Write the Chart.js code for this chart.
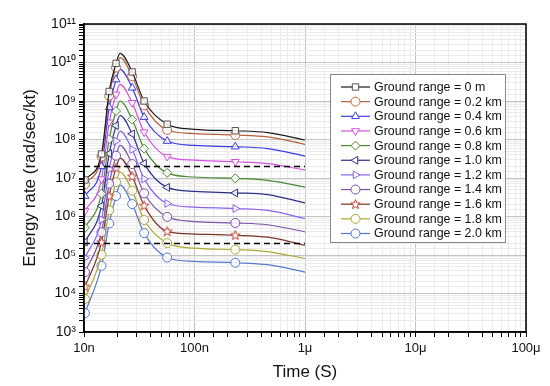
<!DOCTYPE html>
<html>
<head>
<meta charset="utf-8">
<script src="https://cdn.jsdelivr.net/npm/chart.js@4.4.1/dist/chart.umd.min.js"></script>
<style>
html, body { margin: 0; padding: 0; background: #fff; }
</style>
</head>
<body>
<canvas id="energyChart" width="550" height="386"></canvas>
<script>
// sample times (s)
var times = [1.02e-8, 1.44e-8, 1.69e-8, 1.95e-8, 2.12e-8, 2.73e-8, 3.5e-8, 5.66e-8, 1.0e-7, 2.34e-7, 4.6e-7, 1.0e-6];
var markerAt = [1, 1, 1, 1, 0, 1, 1, 1, 0, 1, 0, 0];

var rangeLabels = [
    "Ground range = 0 m",
    "Ground range = 0.2 km",
    "Ground range = 0.4 km",
    "Ground range = 0.6 km",
    "Ground range = 0.8 km",
    "Ground range = 1.0 km",
    "Ground range = 1.2 km",
    "Ground range = 1.4 km",
    "Ground range = 1.6 km",
    "Ground range = 1.8 km",
    "Ground range = 2.0 km",
];

// energy rate (rad/sec/kt) per ground range
var gr00 = [8.9e6, 4.2e7, 1.77e9, 9.5e9, 1.73e10, 5.7e9, 1.0e9, 2.5e8, 1.84e8, 1.69e8, 1.51e8, 9.7e7];
var gr02 = [6.9e6, 3.6e7, 1.37e9, 7.4e9, 1.34e10, 4.4e9, 7.7e8, 1.77e8, 1.42e8, 1.31e8, 1.17e8, 7.5e7];
var gr04 = [3.4e6, 2.0e7, 6.8e8, 3.6e9, 6.6e9, 2.2e9, 3.8e8, 9.1e7, 7.0e7, 6.5e7, 5.8e7, 3.7e7];
var gr06 = [1.39e6, 9.4e6, 2.8e8, 1.49e9, 2.7e9, 9.0e8, 1.56e8, 3.6e7, 2.9e7, 2.64e7, 2.36e7, 1.61e7];
var gr08 = [5.1e5, 3.9e6, 1.02e8, 5.5e8, 1.0e9, 3.3e8, 5.8e7, 1.36e7, 1.06e7, 9.8e6, 8.7e6, 5.8e6];
var gr10 = [2.16e5, 1.88e6, 4.3e7, 2.3e8, 4.2e8, 1.4e8, 2.4e7, 5.7e6, 4.5e6, 4.1e6, 3.7e6, 2.26e6];
var gr12 = [8.5e4, 8.3e5, 1.69e7, 9.1e7, 1.65e8, 5.5e7, 9.5e6, 2.18e6, 1.75e6, 1.61e6, 1.44e6, 8.9e5];
var gr14 = [3.6e4, 3.9e5, 7.1e6, 3.8e7, 7.0e7, 2.3e7, 4.0e6, 9.8e5, 7.4e5, 6.8e5, 6.1e5, 4.0e5];
var gr16 = [1.5e4, 2.15e5, 3.4e6, 1.83e7, 3.3e7, 1.1e7, 1.92e6, 4.1e5, 3.5e5, 3.26e5, 2.9e5, 1.79e5];
var gr18 = [7.2e3, 1.02e5, 1.45e6, 7.8e6, 1.41e7, 4.7e6, 8.1e5, 2.04e5, 1.5e5, 1.38e5, 1.23e5, 8.1e4];
var gr20 = [3.1e3, 5.2e4, 6.6e5, 3.4e6, 6.5e6, 2.1e6, 3.7e5, 8.6e4, 6.8e4, 6.3e4, 5.6e4, 3.6e4];
var seriesValues = [gr00, gr02, gr04, gr06, gr08, gr10, gr12, gr14, gr16, gr18, gr20];

// dashed reference levels
var dashLevels = [2e7, 2e5];
var dashSpan = [1e-8, 1e-6];

var xTickLabels = ["10n", "100n", "1\u03bc", "10\u03bc", "100\u03bc"];
var yTickLabels = ["10\u00b3", "10\u2074", "10\u2075", "10\u2076", "10\u2077", "10\u2078", "10\u2079", "10\u00b9\u2070", "10\u00b9\u00b9"];

var lineColors = ["#1c1c1c", "#b5603a", "#3a3ae6", "#d54fe0", "#4a8a34", "#2e2e8a", "#8a62f0", "#7a52a8", "#7a3428", "#a8a832", "#5878d0"];
var markerColors = ["#555", "#c0683e", "#3a3ae6", "#d54fe0", "#4a8a34", "#2e2e8a", "#8a62f0", "#7a52a8", "#c0392b", "#a8a832", "#5878d0"];

var FONT = "'Liberation Sans', Arial, Helvetica, sans-serif";

// 5 point star for the 1.6 km series
function makeStar(color) {
    var c = document.createElement("canvas");
    c.width = 11; c.height = 11;
    var g = c.getContext("2d");
    g.beginPath();
    for (var i = 0; i < 10; i++) {
        var r = i % 2 === 0 ? 5 : 2.1;
        var a = -Math.PI / 2 + i * Math.PI / 5;
        var px = 5.5 + r * Math.cos(a), py = 5.7 + r * Math.sin(a);
        if (i === 0) g.moveTo(px, py); else g.lineTo(px, py);
    }
    g.closePath();
    g.fillStyle = "#fff";
    g.fill();
    g.strokeStyle = color;
    g.lineWidth = 1;
    g.stroke();
    return c;
}

var starImg = makeStar(markerColors[8]);
var pointStyles = ["rect", "circle", "triangle", "triangle", "rectRot", "triangle", "triangle", "circle", starImg, "circle", "circle"];
var pointRotations = [0, 0, 0, 180, 0, 270, 90, 0, 0, 0, 0];

function isPow10(v) {
    var e = Math.log10(v);
    return Math.abs(e - Math.round(e)) < 1e-6;
}

var datasets = [];
seriesValues.forEach(function (vals, s) {
    datasets.push({
        label: rangeLabels[s],
        data: vals.map(function (v, i) { return { x: times[i], y: v }; }),
        borderColor: lineColors[s],
        borderWidth: 1.2,
        pointStyle: pointStyles[s],
        pointRotation: pointRotations[s],
        pointRadius: markerAt.map(function (m) { return m ? 4.5 : 0; }),
        pointBorderColor: markerColors[s],
        pointBackgroundColor: "rgba(255,255,255,0.85)",
        pointBorderWidth: 1,
        cubicInterpolationMode: "monotone",
        fill: false,
    });
});

dashLevels.forEach(function (lvl) {
    datasets.push({
        label: "",
        data: [{ x: dashSpan[0], y: lvl }, { x: dashSpan[1], y: lvl }],
        borderColor: "#000",
        borderWidth: 1.5,
        borderDash: [6, 4],
        pointRadius: 0,
        order: -1,
    });
});

// frame round the plot + legend inside it
var framePlugin = {
    id: "frameLegend",
    afterDraw: function (chart) {
        var a = chart.chartArea, ctx = chart.ctx;
        ctx.save();
        ctx.strokeStyle = "#000";
        ctx.lineWidth = 1.5;
        ctx.strokeRect(a.left, a.top, a.right - a.left, a.bottom - a.top);

        var bx = 330, by = 74, bw = 175, bh = 168;
        ctx.fillStyle = "#fff";
        ctx.fillRect(bx, by, bw, bh);
        ctx.strokeStyle = "#888";
        ctx.lineWidth = 1;
        ctx.strokeRect(bx + 0.5, by + 0.5, bw, bh);

        ctx.font = "12.4px " + FONT;
        ctx.textBaseline = "middle";
        ctx.textAlign = "left";
        for (var i = 0; i < rangeLabels.length; i++) {
            var y = by + 13 + i * 14.65;
            ctx.strokeStyle = lineColors[i];
            ctx.lineWidth = 1.2;
            ctx.beginPath();
            ctx.moveTo(341, y);
            ctx.lineTo(370, y);
            ctx.stroke();
            ctx.strokeStyle = markerColors[i];
            ctx.fillStyle = "#fff";
            ctx.lineWidth = 1;
            if (Chart.helpers && Chart.helpers.drawPoint) {
                Chart.helpers.drawPoint(ctx, { pointStyle: pointStyles[i], rotation: pointRotations[i], radius: 4.5, borderWidth: 1 }, 355.5, y);
            }
            ctx.fillStyle = "#111";
            ctx.fillText(rangeLabels[i], 374, y + 0.5);
        }
        ctx.restore();
    },
};

function gridColor(c) {
    if (!c.tick) return "#ddd";
    return isPow10(c.tick.value) ? "#c4c4c4" : "#ebebeb";
}

var ctx = document.getElementById("energyChart").getContext("2d");
var chart = new Chart(ctx, {
    type: "line",
    data: { datasets: datasets },
    options: {
        responsive: false,
        animation: false,
        layout: { padding: { left: 0, right: 24, top: 24, bottom: 0 } },
        plugins: { legend: { display: false }, tooltip: { enabled: false } },
        scales: {
            x: {
                type: "logarithmic",
                min: 1e-8,
                max: 1e-4,
                afterFit: function (s) { s.height = 54; },
                grid: { color: gridColor, tickColor: "#000", tickLength: 5 },
                border: { color: "#000", width: 1.5 },
                ticks: {
                    autoSkip: false,
                    maxRotation: 0,
                    padding: 4,
                    color: "#111",
                    font: { size: 13, family: FONT },
                    callback: function (v) {
                        if (!isPow10(v)) return "";
                        return xTickLabels[Math.round(Math.log10(v)) + 8];
                    },
                },
                title: { display: true, text: "Time (S)", color: "#111", font: { size: 17, family: FONT }, padding: { top: 0, bottom: 3 } },
            },
            y: {
                type: "logarithmic",
                min: 1e3,
                max: 1e11,
                afterFit: function (s) { s.width = 84; },
                grid: { color: gridColor, tickColor: "#000", tickLength: 5 },
                border: { color: "#000", width: 1.5 },
                ticks: {
                    autoSkip: false,
                    padding: 3,
                    color: "#111",
                    font: { size: 14, family: FONT },
                    callback: function (v) {
                        if (!isPow10(v)) return "";
                        return yTickLabels[Math.round(Math.log10(v)) - 3];
                    },
                },
                title: { display: true, text: "Energy rate (rad/sec/kt)", color: "#111", font: { size: 17, family: FONT }, padding: { top: 20, bottom: 0 } },
            },
        },
    },
    plugins: [framePlugin],
});
</script>
</body>
</html>
